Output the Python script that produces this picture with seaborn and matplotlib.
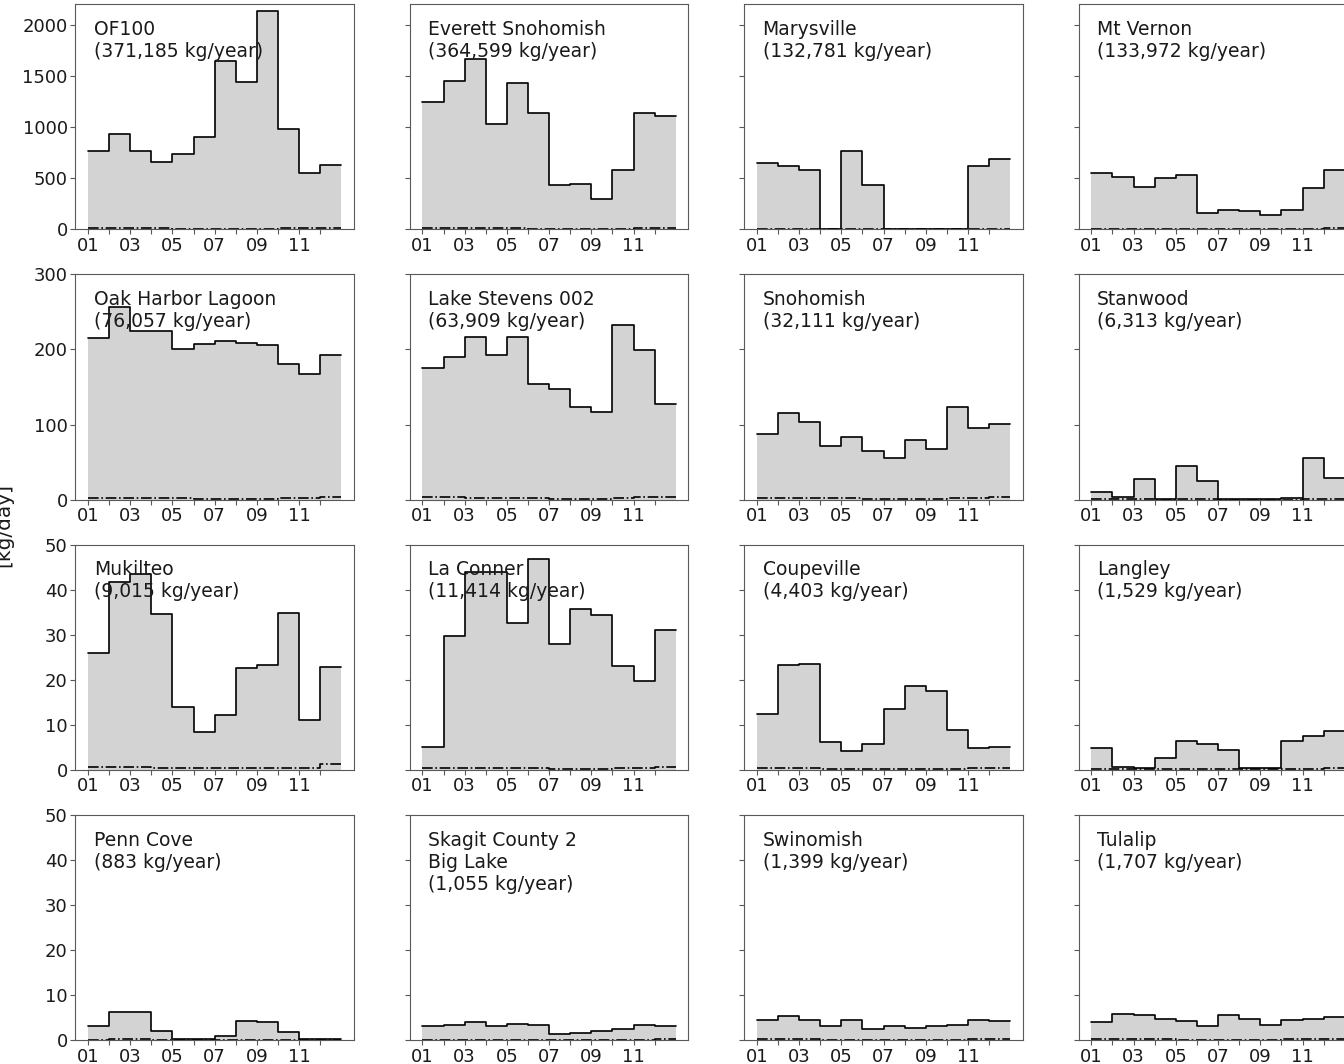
import matplotlib
matplotlib.use("Agg")
import matplotlib.pyplot as plt
import numpy as np
import seaborn as sns

# month edges: Jan .. following Jan (steps drawn "post")
month_edges = np.arange(1, 14)
tick_labels = ["01", "", "03", "", "05", "", "07", "", "09", "", "11", ""]

names = [
    "OF100", "Everett Snohomish", "Marysville", "Mt Vernon",
    "Oak Harbor Lagoon", "Lake Stevens 002", "Snohomish", "Stanwood",
    "Mukilteo", "La Conner", "Coupeville", "Langley",
    "Penn Cove", "Skagit County 2\nBig Lake", "Swinomish", "Tulalip",
]
totals = [
    "371,185", "364,599", "132,781", "133,972",
    "76,057", "63,909", "32,111", "6,313",
    "9,015", "11,414", "4,403", "1,529",
    "883", "1,055", "1,399", "1,707",
]

# monthly mean load [kg/day]
of100 = [770, 933, 765, 657, 735, 907, 1649, 1441, 2137, 982, 549, 634]
everett = [1249, 1451, 1665, 1031, 1434, 1141, 436, 440, 300, 582, 1141, 1106]
marysville = [644, 621, 579, 0, 764, 436, 0, 0, 0, 0, 615, 690]
mt_vernon = [549, 514, 413, 504, 533, 163, 185, 179, 143, 185, 407, 582]
oak_harbor = [215, 257, 224, 224, 200, 207, 211, 209, 206, 180, 167, 192]
lake_stevens = [176, 190, 217, 193, 216, 154, 148, 123, 117, 232, 199, 128]
snohomish = [88, 115, 104, 72, 83, 65, 56, 79, 68, 124, 96, 101]
stanwood = [10, 3, 27, 1, 45, 25, 1, 0.5, 0.5, 2, 56, 29]
mukilteo = [25.9, 41.8, 43.5, 34.5, 13.9, 8.3, 12.2, 22.7, 23.3, 34.9, 11.1, 22.8]
la_conner = [5.1, 29.7, 44.0, 44.0, 32.7, 46.7, 27.9, 35.8, 34.3, 23.0, 19.8, 31.0]
coupeville = [12.4, 23.3, 23.6, 6.2, 4.2, 5.7, 13.4, 18.7, 17.5, 8.8, 4.9, 5.1]
langley = [4.8, 0.6, 0.3, 2.7, 6.3, 5.7, 4.5, 0.3, 0.3, 6.5, 7.6, 8.5]
penn_cove = [3.0, 6.3, 6.2, 1.9, 0.3, 0.3, 0.8, 4.2, 3.9, 1.8, 0.15, 0.15]
skagit = [3.1, 3.4, 4.0, 3.1, 3.6, 3.3, 1.3, 1.5, 1.9, 2.4, 3.4, 3.2]
swinomish = [4.4, 5.4, 4.5, 3.0, 4.4, 2.4, 3.0, 2.7, 3.2, 3.4, 4.4, 4.1]
tulalip = [4.0, 5.7, 5.6, 4.7, 4.2, 3.2, 5.6, 4.7, 3.3, 4.4, 4.7, 5.1]

# secondary (dash-dot) load, close to zero
of100_b = [12, 10, 10, 9, 8, 8, 7, 7, 8, 9, 12, 15]
everett_b = [10, 9, 12, 11, 10, 8, 6, 6, 5, 8, 14, 12]
marysville_b = [6, 5, 5, 0, 5, 4, 0, 0, 0, 0, 5, 6]
mt_vernon_b = [8, 8, 7, 7, 6, 4, 4, 4, 4, 4, 8, 9]
oak_harbor_b = [2.0, 2.5, 2.0, 2.0, 1.5, 1.0, 1.0, 1.0, 1.0, 1.5, 2.0, 3.0]
lake_stevens_b = [3.0, 3.0, 2.5, 2.0, 2.0, 1.5, 1.0, 1.0, 1.0, 2.0, 3.0, 4.0]
snohomish_b = [1.5, 1.5, 2.0, 1.5, 1.5, 1.0, 1.0, 1.0, 1.0, 1.5, 2.0, 3.0]
stanwood_b = [0.5, 0.2, 0.5, 0.1, 0.6, 0.4, 0.1, 0.1, 0.1, 0.1, 0.8, 0.5]
mukilteo_b = [0.7, 0.7, 0.6, 0.5, 0.4, 0.3, 0.3, 0.3, 0.3, 0.4, 0.5, 1.2]
la_conner_b = [0.4, 0.5, 0.4, 0.3, 0.3, 0.3, 0.2, 0.2, 0.2, 0.3, 0.4, 0.6]
coupeville_b = [0.3, 0.3, 0.3, 0.2, 0.2, 0.2, 0.2, 0.2, 0.2, 0.2, 0.3, 0.3]
langley_b = [0.2, 0.1, 0.1, 0.1, 0.2, 0.2, 0.2, 0.1, 0.1, 0.2, 0.2, 0.3]
penn_cove_b = [0.1, 0.2, 0.2, 0.1, 0.0, 0.0, 0.0, 0.1, 0.1, 0.1, 0.0, 0.0]
skagit_b = [0.1, 0.1, 0.1, 0.1, 0.1, 0.1, 0.1, 0.1, 0.1, 0.1, 0.1, 0.2]
swinomish_b = [0.2, 0.2, 0.2, 0.1, 0.1, 0.1, 0.1, 0.1, 0.1, 0.1, 0.2, 0.2]
tulalip_b = [0.2, 0.2, 0.2, 0.2, 0.1, 0.1, 0.1, 0.1, 0.1, 0.2, 0.2, 0.3]

main_series = [
    of100, everett, marysville, mt_vernon,
    oak_harbor, lake_stevens, snohomish, stanwood,
    mukilteo, la_conner, coupeville, langley,
    penn_cove, skagit, swinomish, tulalip,
]
minor_series = [
    of100_b, everett_b, marysville_b, mt_vernon_b,
    oak_harbor_b, lake_stevens_b, snohomish_b, stanwood_b,
    mukilteo_b, la_conner_b, coupeville_b, langley_b,
    penn_cove_b, skagit_b, swinomish_b, tulalip_b,
]

row_ylim = [2200, 300, 50, 50]
row_yticks = [np.arange(0, 2001, 500), np.arange(0, 301, 100),
              np.arange(0, 51, 10), np.arange(0, 51, 10)]

sns.set_style("ticks")
plt.rcParams["font.family"] = ["DejaVu Sans"]
plt.rcParams["font.size"] = 13.5
plt.rcParams["axes.edgecolor"] = "0.35"
plt.rcParams["xtick.color"] = "0.35"
plt.rcParams["ytick.color"] = "0.35"
plt.rcParams["xtick.labelcolor"] = "0.1"
plt.rcParams["ytick.labelcolor"] = "0.1"

fig, axes = plt.subplots(4, 4, figsize=(13.44, 10.64), dpi=100, sharey="row")
fig.subplots_adjust(left=0.056, right=1.01, bottom=0.0226, top=0.996,
                    wspace=0.2, hspace=0.2)

for i, ax in enumerate(axes.flat):
    row = i // 4
    vals = np.append(main_series[i], main_series[i][-1])
    vals_b = np.append(minor_series[i], minor_series[i][-1])
    ax.fill_between(month_edges, vals, step="post", color="lightgray", lw=0)
    sns.lineplot(x=month_edges, y=vals, drawstyle="steps-post", color="black",
                 lw=1.2, ax=ax)
    sns.lineplot(x=month_edges, y=vals_b, drawstyle="steps-post", color="black",
                 lw=1.2, linestyle="-.", ax=ax)
    ax.text(0.066, 0.93, f"{names[i]}\n({totals[i]} kg/year)",
            transform=ax.transAxes, ha="left", va="top", color="0.1",
            fontsize=13.5)
    ax.set_xlim(0.4, 13.6)
    ax.set_ylim(0, row_ylim[row])
    ax.set_yticks(row_yticks[row])
    ax.set_xticks(month_edges[:12])
    ax.set_xticklabels(tick_labels)
    ax.tick_params(axis="both", labelsize=13, length=3.5, pad=2)
    ax.set_xlabel("")
    ax.set_ylabel("")
    for s in ax.spines.values():
        s.set_visible(True)

fig.text(-0.004, 0.507, "[kg/day]", rotation=90, ha="left", va="center",
         fontsize=14.5, color="0.1")

fig.savefig("out.png", dpi=100)
